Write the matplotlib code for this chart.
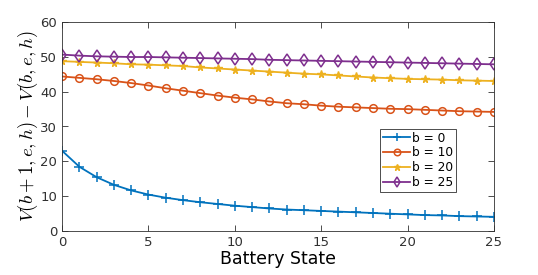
import numpy as np
import matplotlib
matplotlib.use('Agg')
import matplotlib.pyplot as plt

# data
battery = np.arange(0, 26)
v_b0 = [23.0, 18.4, 15.4, 13.2, 11.6, 10.4, 9.5, 8.8, 8.2, 7.7, 7.2, 6.8, 6.4,
        6.1, 5.9, 5.7, 5.5, 5.3, 5.1, 4.9, 4.7, 4.5, 4.4, 4.2, 4.1, 4.0]
v_b10 = [44.4, 44.0, 43.6, 43.1, 42.5, 41.8, 41.0, 40.3, 39.6, 38.9, 38.3, 37.8, 37.2,
         36.7, 36.4, 36.0, 35.7, 35.5, 35.3, 35.1, 35.0, 34.8, 34.6, 34.4, 34.3, 34.2]
v_b20 = [48.8, 48.6, 48.4, 48.2, 47.9, 47.8, 47.6, 47.4, 47.0, 46.7, 46.4, 46.1, 45.8,
         45.5, 45.2, 45.0, 44.7, 44.4, 44.1, 43.9, 43.7, 43.6, 43.5, 43.3, 43.2, 43.1]
v_b25 = [50.7, 50.4, 50.2, 50.1, 50.0, 50.0, 49.9, 49.8, 49.7, 49.6, 49.5, 49.4, 49.2,
         49.1, 49.0, 48.9, 48.8, 48.7, 48.6, 48.5, 48.4, 48.3, 48.2, 48.1, 48.0, 47.9]
labels = ['b = 0', 'b = 10', 'b = 20', 'b = 25']

plt.rcParams['mathtext.fontset'] = 'cm'
plt.rcParams['font.family'] = 'DejaVu Sans'

fig = plt.figure(figsize=(5.38, 2.75), dpi=100)
ax = fig.add_axes([0.1155, 0.161, 0.8025, 0.758])

ax.plot(battery, v_b0, color='#0072BD', marker='+', ms=6.5, mew=1.1, lw=1.3, label=labels[0])
ax.plot(battery, v_b10, color='#D95319', marker='o', ms=5.5, mfc='none', mew=1.1, lw=1.3, label=labels[1])
ax.plot(battery, v_b20, color='#EDB120', marker='*', ms=5.5, lw=1.3, label=labels[2])
ax.plot(battery, v_b25, color='#7E2F8E', marker='d', ms=6, mfc='none', mew=1.1, lw=1.3, label=labels[3])

ax.set_xlim(0, 25)
ax.set_ylim(0, 60)
ax.set_xticks([0, 5, 10, 15, 20, 25])
ax.set_yticks([0, 10, 20, 30, 40, 50, 60])
ax.tick_params(direction='in', top=True, right=True, labelsize=9.5, colors='#303030',
               length=4, width=0.6)
for s in ax.spines.values():
    s.set_color('#303030')
    s.set_linewidth(0.6)

ax.set_xlabel('Battery State', fontsize=12.5, labelpad=1)
ax.set_ylabel(r'$V(b+1,e,h) - V(b,e,h)$', fontsize=13.5, labelpad=0)

leg = ax.legend(loc='upper left', bbox_to_anchor=(0.737, 0.49), fontsize=8.8,
                fancybox=False, framealpha=1, edgecolor='#303030',
                handlelength=2.2, borderpad=0.25, labelspacing=0.15, handletextpad=0.15,
                borderaxespad=0, markerscale=0.85)
leg.get_frame().set_linewidth(0.6)

fig.savefig('out.png', dpi=100)
